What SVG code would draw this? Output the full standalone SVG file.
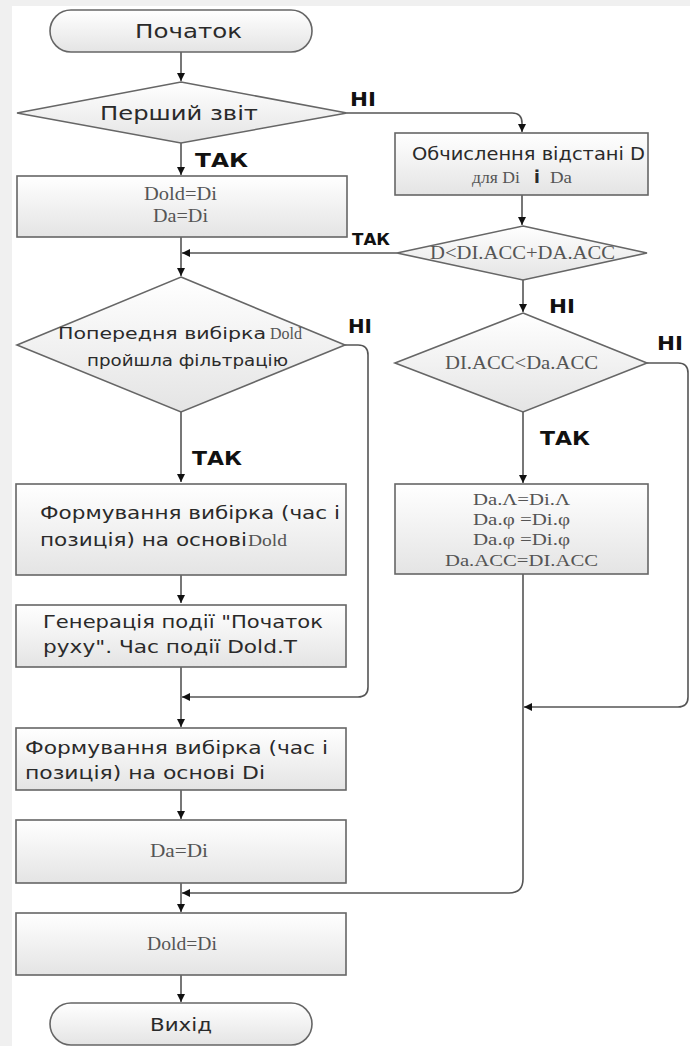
<svg xmlns="http://www.w3.org/2000/svg" width="690" height="1046" viewBox="0 0 690 1046">
<defs>
<linearGradient id="gBox" x1="0" y1="0" x2="0" y2="1">
<stop offset="0" stop-color="#ffffff"/>
<stop offset="1" stop-color="#e4e4e4"/>
</linearGradient>
<marker id="arr" markerUnits="userSpaceOnUse" markerWidth="10" markerHeight="10" refX="8" refY="4" orient="auto">
<path d="M0,0 L8,4 L0,8 Z" fill="#111"/>
</marker>
<style>
.shape{fill:url(#gBox);stroke:#666;stroke-width:1.6}
.conn{fill:none;stroke:#555;stroke-width:1.6}
.sans{font-family:"DejaVu Sans","Open Sans",sans-serif;fill:#2a2a2a}
.serif{font-family:"Liberation Serif","Times New Roman",serif;fill:#555}
.lbl{font-family:"DejaVu Sans","Open Sans",sans-serif;font-weight:bold;fill:#111}
</style>
</defs>
<rect width="690" height="1046" fill="#f0f0f0"/>
<rect x="12" y="6" width="678" height="1040" fill="#ffffff"/>

<g id="connectors">
<path class="conn" d="M181,52 V81" marker-end="url(#arr)"/>
<path class="conn" d="M181,143 V175" marker-end="url(#arr)"/>
<path class="conn" d="M347,113 H512 Q522,113 522,123 V132" marker-end="url(#arr)"/>
<path class="conn" d="M522,195 V225" marker-end="url(#arr)"/>
<path class="conn" d="M397,253 H182" marker-end="url(#arr)"/>
<path class="conn" d="M181,237 V276" marker-end="url(#arr)"/>
<path class="conn" d="M523,280 V312" marker-end="url(#arr)"/>
<path class="conn" d="M181,412 V482" marker-end="url(#arr)"/>
<path class="conn" d="M345,345 H358 Q368,345 368,355 V687 Q368,697 358,697 H182" marker-end="url(#arr)"/>
<path class="conn" d="M181,575 V603" marker-end="url(#arr)"/>
<path class="conn" d="M181,667 V727" marker-end="url(#arr)"/>
<path class="conn" d="M647,363 H678 Q688,363 688,373 V697 Q688,707 678,707 H524" marker-end="url(#arr)"/>
<path class="conn" d="M523,412 V483" marker-end="url(#arr)"/>
<path class="conn" d="M523,574 V879 Q523,893 509,893 H182" marker-end="url(#arr)"/>
<path class="conn" d="M181,790 V819" marker-end="url(#arr)"/>
<path class="conn" d="M181,883 V912" marker-end="url(#arr)"/>
<path class="conn" d="M181,975 V1002" marker-end="url(#arr)"/>
<text class="lbl" x="350" y="106" font-size="19" textLength="26" lengthAdjust="spacingAndGlyphs">НІ</text>
<text class="lbl" x="195" y="167" font-size="20" textLength="53" lengthAdjust="spacingAndGlyphs">ТАК</text>
<text class="lbl" x="352" y="245" font-size="16" textLength="38" lengthAdjust="spacingAndGlyphs">ТАК</text>
<text class="lbl" x="549" y="313" font-size="19" textLength="26" lengthAdjust="spacingAndGlyphs">НІ</text>
<text class="lbl" x="348" y="333" font-size="19" textLength="24" lengthAdjust="spacingAndGlyphs">НІ</text>
<text class="lbl" x="657" y="350" font-size="19" textLength="26" lengthAdjust="spacingAndGlyphs">НІ</text>
<text class="lbl" x="540" y="445" font-size="20" textLength="50" lengthAdjust="spacingAndGlyphs">ТАК</text>
<text class="lbl" x="192" y="465" font-size="20" textLength="50" lengthAdjust="spacingAndGlyphs">ТАК</text>
</g>

<g id="start">
<rect class="shape" x="50" y="10" width="262" height="42" rx="21" ry="21"/>
<text class="sans" x="135" y="38" font-size="20" textLength="107" lengthAdjust="spacingAndGlyphs">Початок</text>
</g>

<g id="dec-first">
<polygon class="shape" points="181,82 347,113 181,143 17,113"/>
<text class="sans" x="100" y="120" font-size="20" textLength="158" lengthAdjust="spacingAndGlyphs">Перший звіт</text>
</g>

<g id="box-init">
<rect class="shape" x="17" y="176" width="330" height="61"/>
<text class="serif" x="144" y="200" font-size="18" textLength="73" lengthAdjust="spacingAndGlyphs">Dold=Di</text>
<text class="serif" x="153" y="222" font-size="18" textLength="55" lengthAdjust="spacingAndGlyphs">Da=Di</text>
</g>

<g id="box-dist">
<rect class="shape" x="395" y="133" width="253" height="62"/>
<text class="sans" x="412" y="160" font-size="17" textLength="233" lengthAdjust="spacingAndGlyphs">Обчислення відстані D</text>
<text class="serif" x="472" y="183" font-size="17" textLength="48" lengthAdjust="spacingAndGlyphs">для Di</text>
<text class="sans" x="534" y="183" font-size="17" font-weight="bold" fill="#2a4a8a">і</text>
<text class="serif" x="550" y="183" font-size="17" textLength="22" lengthAdjust="spacingAndGlyphs">Da</text>
</g>

<g id="dec-dist">
<polygon class="shape" points="523,226 647,253 523,280 397,253"/>
<text class="serif" x="430" y="259" font-size="18" textLength="185" lengthAdjust="spacingAndGlyphs">D&lt;DI.ACC+DA.ACC</text>
</g>

<g id="dec-filter">
<polygon class="shape" points="181,277 345,345 181,412 17,345"/>
<text class="sans" x="58" y="339" font-size="16.5" textLength="208" lengthAdjust="spacingAndGlyphs">Попередня вибірка</text>
<text class="serif" x="270" y="339" font-size="17" textLength="32" lengthAdjust="spacingAndGlyphs">Dold</text>
<text class="sans" x="87" y="366" font-size="16.5" textLength="201" lengthAdjust="spacingAndGlyphs">пройшла фільтрацію</text>
</g>

<g id="dec-acc">
<polygon class="shape" points="523,313 647,363 523,412 395,363"/>
<text class="serif" x="445" y="369" font-size="18" textLength="153" lengthAdjust="spacingAndGlyphs">DI.ACC&lt;Da.ACC</text>
</g>

<g id="box-assign">
<rect class="shape" x="395" y="484" width="253" height="90"/>
<text class="serif" x="473" y="505" font-size="17" textLength="97" lengthAdjust="spacingAndGlyphs">Da.Λ=Di.Λ</text>
<text class="serif" x="473" y="525" font-size="17" textLength="97" lengthAdjust="spacingAndGlyphs">Da.φ =Di.φ</text>
<text class="serif" x="473" y="545" font-size="17" textLength="97" lengthAdjust="spacingAndGlyphs">Da.φ =Di.φ</text>
<text class="serif" x="445" y="566" font-size="17" textLength="153" lengthAdjust="spacingAndGlyphs">Da.ACC=DI.ACC</text>
</g>

<g id="box-form-old">
<rect class="shape" x="16" y="484" width="330" height="91"/>
<text class="sans" x="40" y="519" font-size="18" textLength="300" lengthAdjust="spacingAndGlyphs">Формування вибірка (час і</text>
<text class="sans" x="40" y="546" font-size="18" textLength="207" lengthAdjust="spacingAndGlyphs">позиція) на основі</text>
<text class="serif" x="248" y="546" font-size="17" textLength="39" lengthAdjust="spacingAndGlyphs">Dold</text>
</g>

<g id="box-event">
<rect class="shape" x="16" y="605" width="330" height="62"/>
<text class="sans" x="43" y="628" font-size="18" textLength="280" lengthAdjust="spacingAndGlyphs">Генерація події "Початок</text>
<text class="sans" x="43" y="653" font-size="18" textLength="254" lengthAdjust="spacingAndGlyphs">руху".  Час події Dold.T</text>
</g>

<g id="box-form-new">
<rect class="shape" x="16" y="728" width="330" height="62"/>
<text class="sans" x="25" y="754" font-size="18" textLength="303" lengthAdjust="spacingAndGlyphs">Формування вибірка (час і</text>
<text class="sans" x="25" y="779" font-size="18" textLength="240" lengthAdjust="spacingAndGlyphs">позиція) на основі  Di</text>
</g>

<g id="box-da">
<rect class="shape" x="16" y="820" width="330" height="63"/>
<text class="serif" x="150" y="857" font-size="18" textLength="58" lengthAdjust="spacingAndGlyphs">Da=Di</text>
</g>

<g id="box-dold">
<rect class="shape" x="16" y="913" width="330" height="62"/>
<text class="serif" x="147" y="950" font-size="18" textLength="70" lengthAdjust="spacingAndGlyphs">Dold=Di</text>
</g>

<g id="end">
<rect class="shape" x="50" y="1003" width="262" height="42" rx="21" ry="21"/>
<text class="sans" x="150" y="1031" font-size="18" textLength="62" lengthAdjust="spacingAndGlyphs">Вихід</text>
</g>
</svg>
